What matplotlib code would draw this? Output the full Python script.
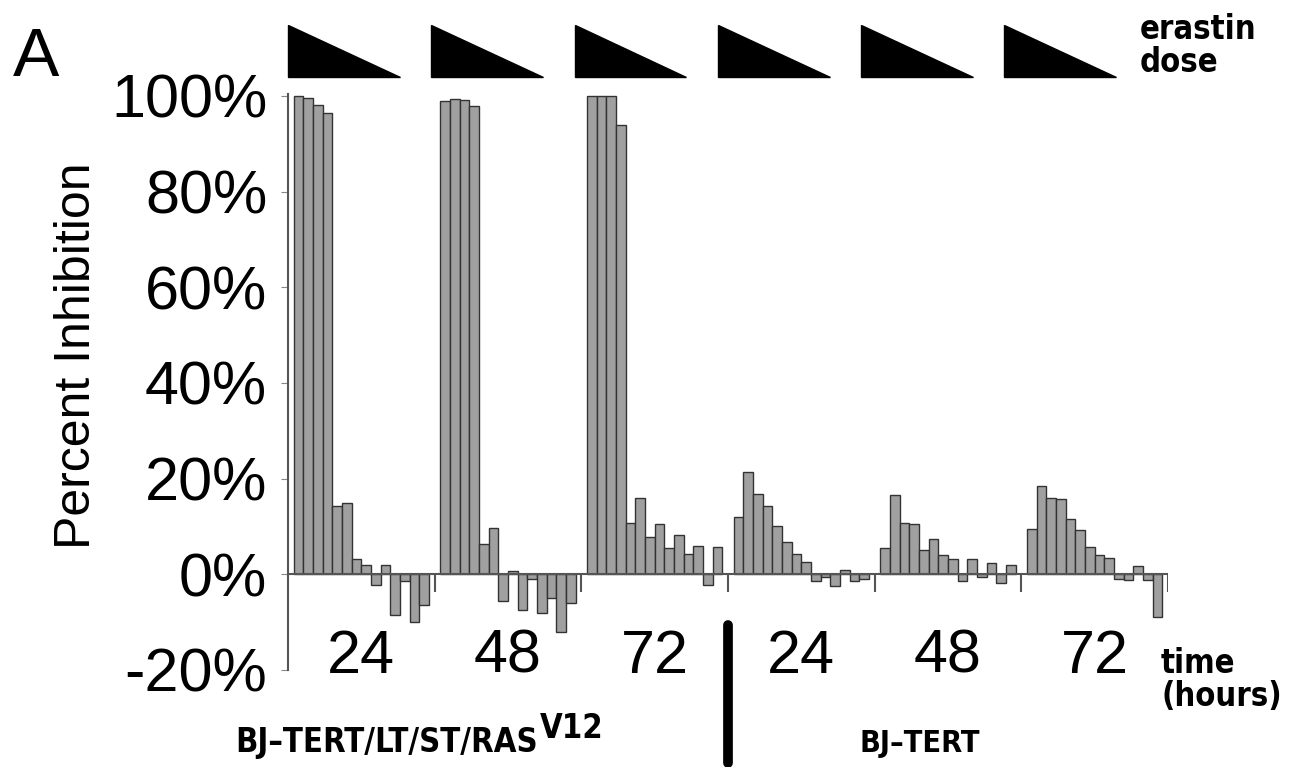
import numpy as np
import matplotlib.pyplot as plt
from matplotlib.patches import Polygon
from matplotlib.transforms import blended_transform_factory

# percent inhibition, 14 erastin doses (high -> low) per time point
ras_24 = [100, 99.6, 98.2, 96.4, 14.2, 15, 3.1, 2, -2.3, 2, -8.5, -1.5, -10, -6.5]
ras_48 = [99, 99.4, 99.2, 98, 6.3, 9.6, -5.6, 0.7, -7.5, -1, -8, -5, -12, -6]
ras_72 = [100, 100, 100, 94, 10.7, 16, 7.8, 10.5, 5.5, 8.2, 4.2, 6, -2.2, 5.8]
tert_24 = [12, 21.4, 16.7, 14.2, 10, 6.7, 4.2, 2.5, -1.4, -0.6, -2.5, 1, -1.3, -1]
tert_48 = [5.5, 16.6, 10.7, 10.6, 5, 7.3, 4.1, 3.3, -1.4, 3.3, -0.6, 2.4, -1.8, 2]
tert_72 = [9.5, 18.4, 16, 15.8, 11.6, 9.2, 5.8, 4, 3.4, -0.9, -1.2, 1.7, -1.2, -9]
groups = [ras_24, ras_48, ras_72, tert_24, tert_48, tert_72]
time_labels = ["24", "48", "72", "24", "48", "72"]
yticks = [-20, 0, 20, 40, 60, 80, 100]

plt.rcParams['font.family'] = ['Liberation Sans', 'DejaVu Sans']

fig = plt.figure(figsize=(12.89, 7.67), dpi=100)
ax = fig.add_axes([0.2234, 0.1265, 0.6827, 0.7515])

gw = 15.2  # group width in bar units
for g, vals in enumerate(groups):
    x = g * gw + 0.6 + np.arange(len(vals)) + 0.5
    ax.bar(x, vals, width=1.0, color='#a0a0a0', edgecolor='#333333', linewidth=1.0, zorder=2)
    ax.text(g * gw + gw / 2, -17.3, time_labels[g], ha='center', va='center', fontsize=44)

n = len(groups)
ax.hlines(0, 0, n * gw, color='#555555', linewidth=1.5, zorder=3)
ax.vlines([g * gw for g in range(1, n + 1)], -3.8, 0, color='#555555', linewidth=1.5, zorder=3)

ax.set_xlim(0, n * gw)
ax.set_ylim(-20, 100.5)
for s in ['top', 'right', 'bottom']:
    ax.spines[s].set_visible(False)
ax.spines['left'].set_color('#555555')
ax.spines['left'].set_linewidth(1.5)
ax.set_xticks([])
ax.set_yticks(yticks)
ax.set_yticklabels([f"{v}%" for v in yticks], fontsize=44)
ax.tick_params(axis='y', length=5, color='#888888', pad=10)
ax.set_ylabel("Percent Inhibition", fontsize=36)
ax.yaxis.set_label_coords(-0.214, 0.546)

# erastin dose triangles
trans = blended_transform_factory(ax.transData, fig.transFigure)
for g in range(n):
    x0 = g * 14.85
    tri = Polygon([(x0, 0.9674), (x0, 0.8996), (x0 + 11.6, 0.8996)], closed=True,
                  facecolor='black', edgecolor='black', transform=trans, clip_on=False)
    fig.add_artist(tri)

# divider between cell lines
fig.add_artist(plt.Line2D([728 / 1289, 728 / 1289], [4 / 767, 142 / 767], color='black',
                          linewidth=7, solid_capstyle='round'))

lab = dict(fontweight='bold', family=['DejaVu Sans'], fontstretch='condensed')
fig.text(0.010, 0.924, "A", fontsize=50, ha='left', va='center')
fig.text(1140 / 1289, 0.983, "erastin\ndose", fontsize=23.5, ha='left', va='top',
         linespacing=1.0, **lab)
fig.text(1161 / 1289, 0.113, "time\n(hours)", fontsize=23.5, ha='left', va='center',
         linespacing=1.0, **lab)
fig.text(538 / 1289, 0.0196, "BJ–TERT/LT/ST/RAS", fontsize=23.5, ha='right', va='baseline', **lab)
fig.text(540 / 1289, 0.038, "V12", fontsize=23.5, ha='left', va='baseline', **lab)
fig.text(920 / 1289, 0.0196, "BJ–TERT", fontsize=22, ha='center', va='baseline', **lab)

fig.savefig("out.png", dpi=100)
